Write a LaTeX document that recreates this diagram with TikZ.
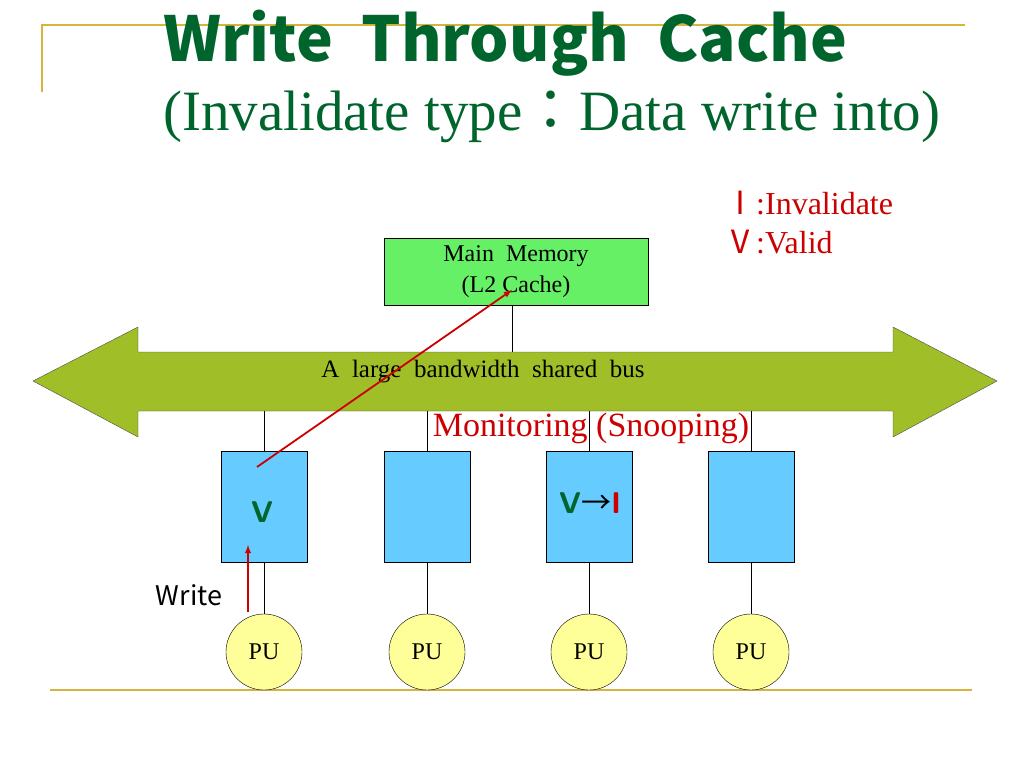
\documentclass[tikz,border=0pt]{standalone}
\usepackage{fontspec}
\setmainfont{Liberation Serif}
\newfontfamily\cjk{Noto Sans CJK JP}
\definecolor{gold}{RGB}{215,180,60}
\definecolor{tgreen}{RGB}{0,100,45}
\definecolor{memg}{RGB}{102,240,102}
\definecolor{cblue}{RGB}{102,204,255}
\definecolor{puy}{RGB}{255,255,153}
\definecolor{olive}{RGB}{160,190,40}
\definecolor{rd}{RGB}{204,0,0}
\begin{document}
\begin{tikzpicture}[x=1pt,y=-1pt,
 cache/.style={draw,fill=cblue,minimum width=86pt,minimum height=111pt,inner sep=0},
 pu/.style={draw,fill=puy,circle,minimum size=76pt,inner sep=0,font=\fontsize{24}{26}\selectfont},
 redarr/.style={rd,line width=1.8pt,-latex}]
\useasboundingbox (0,0) rectangle (1024,768);
\draw[gold,line width=1.5pt] (42,92) -- (42,25) -- (965,25);
\draw[gold,line width=1.5pt] (50,690) -- (972,690);
\node[anchor=west,inner sep=0,text=tgreen,font=\cjk\bfseries\fontsize{62}{66}\selectfont] (t1) at (163,43) {Write\ \ Through\ \ Cache};
\node[anchor=west,inner sep=0,text=tgreen,font=\fontsize{57}{60}\selectfont] (t2) at (163,117) {(Invalidate type{\cjk ：}Data write into)};
\node[anchor=west,inner sep=0,text=rd,font=\fontsize{32}{34}\selectfont] (l1) at (724,203) {{\cjk Ⅰ}:Invalidate};
\node[anchor=west,inner sep=0,text=rd,font=\fontsize{32}{34}\selectfont] (l2) at (724,242) {{\cjk Ⅴ}:Valid};
\node[draw,fill=memg,minimum width=264pt,minimum height=67pt,align=center,font=\fontsize{24}{31}\selectfont] (mem) at (516,271.5) {Main\ \ Memory\\(L2 Cache)};
\draw[draw=black!70,fill=olive] (33,381) -- (138,327) -- (138,352) -- (893,352) -- (893,327) -- (997,381) -- (893,437) -- (893,411) -- (138,411) -- (138,437) -- cycle;
\coordinate (bt) at (512,352);
\draw (mem.south -| bt) -- (bt);
\node[font=\fontsize{25}{27}\selectfont] (bus) at (483,372) {A\ \ large\ \ bandwidth\ \ shared\ \ bus};
\node[text=rd,font=\fontsize{34}{36}\selectfont] (mon) at (591,428) {Monitoring (Snooping)};
\foreach \i/\x in {1/264,2/427,3/589,4/751}{
 \node[cache] (c\i) at (\x,506.5) {};
 \node[pu] (p\i) at (\x,652) {PU};
 \coordinate (b\i) at (\x,411);
 \draw (b\i) -- (c\i.north);
 \draw (c\i.south) -- (p\i.north);
}
\node[text=tgreen,font=\sffamily\bfseries\fontsize{30}{32}\selectfont] (v1) at (262,512) {V};
\node[font=\fontsize{30}{32}\selectfont] (v3) at (590,503) {\textcolor{tgreen}{\sffamily\bfseries V}{\cjk →}\textcolor{rd}{\sffamily\bfseries I}};
\node[font=\cjk\fontsize{27}{29}\selectfont] (wr) at (189,595) {Write};
\coordinate (ws) at (248,612);
\coordinate (we) at (248,545);
\draw[redarr] (ws) -- (we);
\coordinate (ls) at (257,467);
\coordinate (le) at (512,290);
\draw[redarr] (ls) -- (le);
\end{tikzpicture}
\end{document}
